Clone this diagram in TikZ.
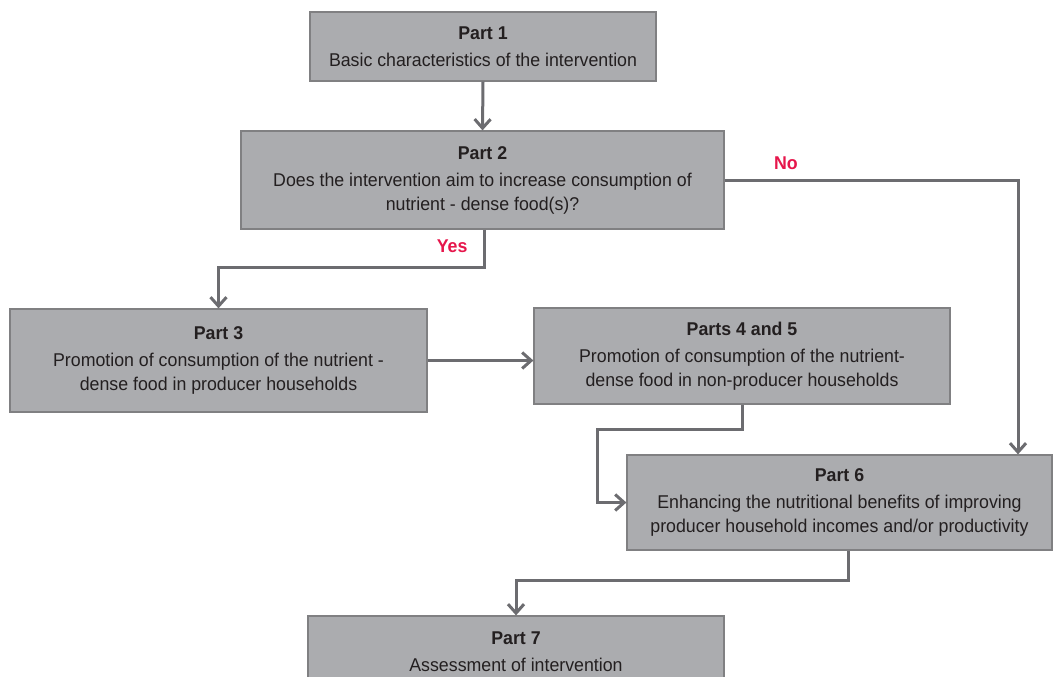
\documentclass[tikz,border=0pt]{standalone}
\usepackage{fontspec}
\setmainfont{Liberation Sans}[FakeStretch=0.96]
\usetikzlibrary{arrows.meta,calc}
\definecolor{boxfill}{RGB}{171,172,175}
\definecolor{boxline}{RGB}{128,128,130}
\definecolor{arrowgray}{RGB}{108,108,112}
\definecolor{labelred}{RGB}{230,22,75}
\definecolor{textdark}{RGB}{35,31,32}
\begin{document}
\begin{tikzpicture}[x=1pt,y=1pt,
  partbox/.style={draw=boxline, line width=1.2pt, fill=boxfill, text=textdark,
    align=center, inner sep=0pt, font=\fontsize{18.5}{24}\selectfont},
  flow/.style={draw=arrowgray, line width=3pt,
    -{Straight Barb[length=9pt,width=16pt,line width=3pt]}},
  answer/.style={text=labelred, font=\fontsize{18.5}{20}\selectfont\bfseries}
]
\useasboundingbox (0,0) rectangle (1053,-677);
\clip (0,0) rectangle (1053,-677);

\node[partbox, minimum width=346, minimum height=69] (P1) at (483,-46.5)
  {\textbf{Part 1}\\[3pt]Basic characteristics of the intervention};
\node[partbox, minimum width=483, minimum height=98] (P2) at (482.5,-180)
  {\textbf{Part 2}\\[3pt]Does the intervention aim to increase consumption of\\nutrient - dense food(s)?};
\node[partbox, minimum width=417, minimum height=103] (P3) at (218.5,-360.5)
  {\textbf{Part 3}\\[3pt]Promotion of consumption of the nutrient -\\dense food in producer households};
\node[partbox, minimum width=416, minimum height=96] (P45) at (742,-356)
  {\textbf{Parts 4 and 5}\\[3pt]Promotion of consumption of the nutrient-\\dense food in non-producer households};
\node[partbox, minimum width=425, minimum height=95] (P6) at (839.5,-502.5)
  {\textbf{Part 6}\\[3pt]Enhancing the nutritional benefits of improving\\producer household incomes and/or productivity};
\node[partbox, minimum width=416, minimum height=71] (P7) at (516,-651.5)
  {\textbf{Part 7}\\[3pt]Assessment of intervention};

\coordinate (yesturn) at (484,-267);
\coordinate (noturn) at (1018,-180.7);
\coordinate (bend45) at (597,-429);
\coordinate (c67) at (848,-580);

\draw[flow] (P1.south) -- (P2.north);
\draw[flow] (P2.south -| yesturn) -- (yesturn) -| (P3.north);
\draw[flow] (P2.east |- noturn) -- (noturn) -- (noturn |- P6.north);
\draw[flow] (P3.east) -- (P3.east -| P45.west);
\draw[flow] (P45.south) -- (P45.south |- bend45) -- (bend45) |- (P6.west);
\draw[flow] (P6.south -| c67) -- (c67) -| (P7.north);

\node[answer, anchor=east] (yes) at (471,-246) {Yes};
\node[answer] (no) at (786,-163) {No};
\end{tikzpicture}
\end{document}
